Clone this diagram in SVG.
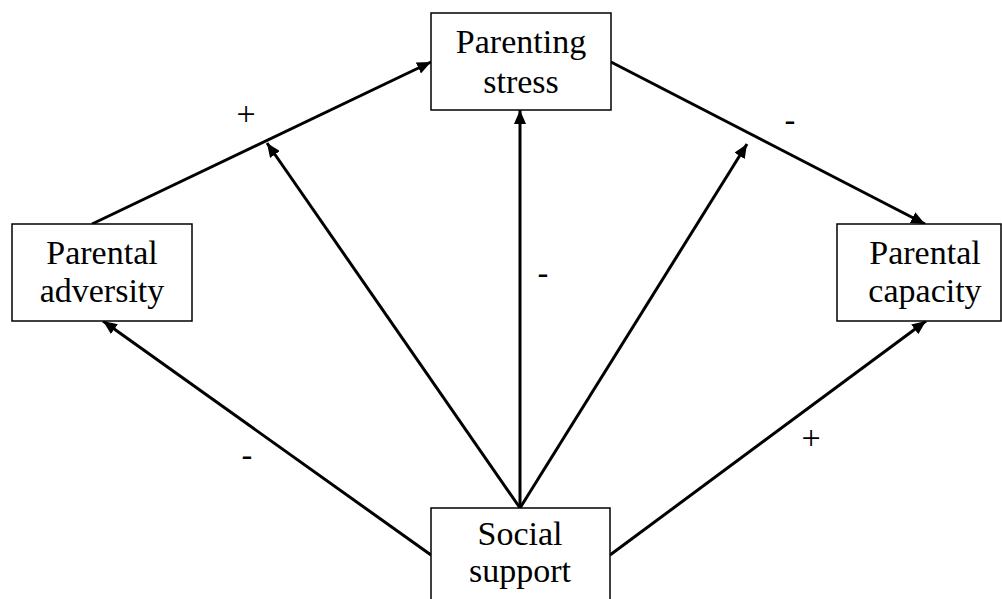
<svg xmlns="http://www.w3.org/2000/svg" width="1002" height="599" viewBox="0 0 1002 599">
<style>
.box{fill:#fff;stroke:#000;stroke-width:1.5}
.lbl{font-family:"Liberation Serif","Times New Roman",serif;font-size:34px;fill:#000;text-anchor:middle}
.sign{font-family:"Liberation Sans",Arial,sans-serif;font-size:34px;fill:#000;text-anchor:middle}
.plus{font-family:"Liberation Serif","Times New Roman",serif;font-size:34px;fill:#000;text-anchor:middle}
.conn line{stroke:#000;stroke-width:3;fill:none}
</style>
<defs>
<marker id="ah" markerUnits="userSpaceOnUse" markerWidth="16" markerHeight="12" refX="14" refY="6" orient="auto">
<path d="M0,0 L14,6 L0,12 Z" fill="#000"/>
</marker>
</defs>
<rect width="1002" height="599" fill="#fff"/>
<g class="conn" id="connectors">
<line x1="92" y1="224" x2="431" y2="62" marker-end="url(#ah)"/>
<line x1="611" y1="62" x2="925" y2="224" marker-end="url(#ah)"/>
<line x1="520" y1="508" x2="520" y2="110" marker-end="url(#ah)"/>
<line x1="520" y1="508" x2="267" y2="143" marker-end="url(#ah)"/>
<line x1="520" y1="508" x2="747" y2="144" marker-end="url(#ah)"/>
<line x1="431" y1="555" x2="103" y2="321" marker-end="url(#ah)"/>
<line x1="610" y1="555" x2="926" y2="321" marker-end="url(#ah)"/>
</g>
<g id="labels">
<text class="plus" x="246" y="125">+</text>
<text class="sign" x="790" y="132">-</text>
<text class="sign" x="543" y="285">-</text>
<text class="sign" x="247" y="467">-</text>
<text class="plus" x="811" y="449">+</text>
</g>
<g id="parenting-stress">
<rect class="box" x="431" y="13" width="180" height="97"/>
<text class="lbl" x="521" y="53">Parenting</text>
<text class="lbl" x="521" y="93">stress</text>
</g>
<g id="parental-adversity">
<rect class="box" x="12" y="224" width="180" height="97"/>
<text class="lbl" x="102" y="264">Parental</text>
<text class="lbl" x="102" y="302">adversity</text>
</g>
<g id="parental-capacity">
<rect class="box" x="837" y="224" width="164" height="97"/>
<text class="lbl" x="925" y="264">Parental</text>
<text class="lbl" x="925" y="302">capacity</text>
</g>
<g id="social-support">
<rect class="box" x="431" y="508" width="179" height="100"/>
<text class="lbl" x="520" y="545">Social</text>
<text class="lbl" x="520" y="582">support</text>
</g>
</svg>
